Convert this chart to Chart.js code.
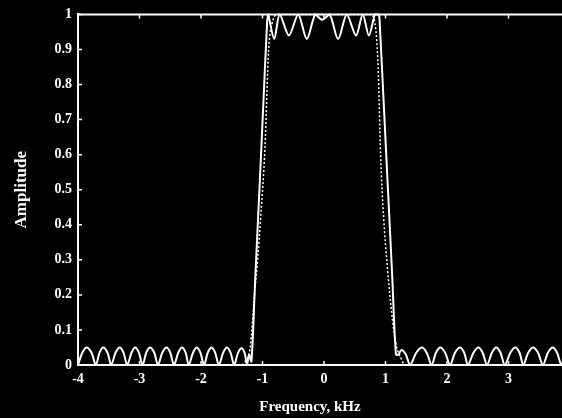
<!DOCTYPE html>
<html>
<head>
<meta charset="utf-8">
<script src="https://cdn.jsdelivr.net/npm/chart.js@4/dist/chart.umd.min.js"></script>
<style>
  html, body { margin: 0; padding: 0; background: #000; overflow: hidden; width: 562px; height: 418px; }
  #wrap { position: absolute; left: 0; top: 0; width: 600px; height: 418px; }
</style>
</head>
<body>
<div id="wrap"><canvas id="c" width="600" height="418"></canvas></div>
<script>
// Rippled filter response, in three stretches: lower stopband, passband with
// its two transition edges, upper stopband
const lowStopFreq = [
  -4.00, -3.93, -3.86, -3.78, -3.71, -3.65, -3.59, -3.52, -3.46, -3.39,
  -3.32, -3.26, -3.20, -3.13, -3.07, -3.01, -2.95, -2.89, -2.83, -2.76,
  -2.70, -2.63, -2.56, -2.50, -2.44, -2.37, -2.31, -2.25, -2.20, -2.13,
  -2.07, -2.01, -1.95, -1.89, -1.83, -1.77, -1.71, -1.64, -1.58, -1.52,
  -1.46, -1.40, -1.34, -1.29, -1.25, -1.22, -1.18
];
const lowStopAmp = [
  0.000, 0.035, 0.050, 0.035, 0.000, 0.035, 0.050, 0.035, 0.000, 0.035,
  0.050, 0.035, 0.000, 0.035, 0.050, 0.035, 0.000, 0.035, 0.050, 0.035,
  0.000, 0.035, 0.050, 0.035, 0.000, 0.035, 0.050, 0.035, 0.000, 0.035,
  0.050, 0.035, 0.000, 0.035, 0.050, 0.035, 0.000, 0.035, 0.050, 0.035,
  0.000, 0.034, 0.048, 0.034, 0.000, 0.030, 0.010
];
const passFreq = [
  -1.12, -1.05, -0.98, -0.93, -0.91, -0.81, -0.72, -0.57, -0.42, -0.28,
  -0.14, -0.03, 0.09, 0.23, 0.37, 0.52, 0.63, 0.73, 0.83, 0.89,
  0.91, 0.97, 1.04, 1.11, 1.17
];
const passAmp = [
  0.24, 0.50, 0.77, 0.96, 1.00, 0.93, 1.00, 0.94, 1.00, 0.93,
  1.00, 0.985, 1.00, 0.93, 1.00, 0.94, 1.00, 0.94, 1.00, 1.00,
  0.96, 0.75, 0.50, 0.25, 0.03
];
const highStopFreq = [
  1.21, 1.26, 1.33, 1.40, 1.50, 1.59, 1.67, 1.75, 1.82, 1.89,
  1.97, 2.05, 2.13, 2.21, 2.28, 2.34, 2.43, 2.51, 2.58, 2.65,
  2.73, 2.80, 2.87, 2.94, 3.03, 3.11, 3.18, 3.24, 3.32, 3.40,
  3.48, 3.56, 3.64, 3.72, 3.79, 3.86, 3.92, 3.98, 4.00
];
const highStopAmp = [
  0.030, 0.043, 0.030, 0.000, 0.035, 0.050, 0.035, 0.000, 0.035, 0.050,
  0.035, 0.000, 0.035, 0.050, 0.035, 0.000, 0.035, 0.050, 0.035, 0.000,
  0.035, 0.050, 0.035, 0.000, 0.035, 0.050, 0.035, 0.000, 0.035, 0.050,
  0.035, 0.000, 0.035, 0.050, 0.035, 0.000, 0.035, 0.050, 0.049
];

// Smooth (ripple-free) reference response, drawn dotted
const smoothFreq = [
  -4.00, -1.35, -1.28, -1.20, -1.13, -1.08, -1.03, -0.96, -0.90, -0.85, -0.76,
  0.76, 0.84, 0.88, 0.92, 0.97, 1.03, 1.10, 1.17, 1.25, 1.32, 4.00
];
const smoothAmp = [
  0.00, 0.00, 0.01, 0.05, 0.20, 0.30, 0.42, 0.62, 0.90, 0.97, 1.00,
  1.00, 0.96, 0.85, 0.60, 0.42, 0.28, 0.15, 0.06, 0.02, 0.00, 0.00
];

const xTickLabels = ['-4', '-3', '-2', '-1', '0', '1', '2', '3', '4'];
const yTickLabels = ['0', '0.1', '0.2', '0.3', '0.4', '0.5', '0.6', '0.7', '0.8', '0.9', '1'];

const toPoints = (xs, ys) => xs.map((x, i) => ({ x: x, y: ys[i] }));
const responsePoints = [
  ...toPoints(lowStopFreq, lowStopAmp),
  ...toPoints(passFreq, passAmp),
  ...toPoints(highStopFreq, highStopAmp)
];

const SERIF = "'Liberation Serif', 'DejaVu Serif', serif";

// Frame: top border with inward ticks, inward ticks on the axes, axis titles
const framePlugin = {
  id: 'frame',
  afterDraw(chart) {
    const ctx = chart.ctx;
    const a = chart.chartArea;
    const xs = chart.scales.x, ys = chart.scales.y;
    ctx.save();
    ctx.strokeStyle = '#fff';
    ctx.lineWidth = 2;
    ctx.beginPath();
    ctx.moveTo(a.left - 1, a.top);
    ctx.lineTo(a.right, a.top);
    ctx.stroke();
    ctx.lineWidth = 1.5;
    ctx.beginPath();
    xs.ticks.forEach(t => {
      const px = xs.getPixelForValue(t.value);
      ctx.moveTo(px, a.bottom);
      ctx.lineTo(px, a.bottom - 4);
      ctx.moveTo(px, a.top);
      ctx.lineTo(px, a.top + 4);
    });
    ys.ticks.forEach(t => {
      const py = ys.getPixelForValue(t.value);
      ctx.moveTo(a.left, py);
      ctx.lineTo(a.left + 4, py);
    });
    ctx.stroke();

    ctx.fillStyle = '#fff';
    ctx.font = 'bold 15px ' + SERIF;
    ctx.textAlign = 'center';
    ctx.textBaseline = 'middle';
    ctx.fillText('Frequency, kHz', 310, 407);
    ctx.translate(22, (a.top + a.bottom) / 2);
    ctx.rotate(-Math.PI / 2);
    ctx.font = 'bold 17px ' + SERIF;
    ctx.fillText('Amplitude', 0, 0);
    ctx.restore();
  }
};

new Chart(document.getElementById('c'), {
  type: 'line',
  data: {
    datasets: [
      {
        data: responsePoints,
        borderColor: '#fff',
        borderWidth: 2,
        pointRadius: 0,
        tension: 0.3,
        clip: 6
      },
      {
        data: toPoints(smoothFreq, smoothAmp),
        borderColor: '#fff',
        borderWidth: 1.5,
        borderDash: [2, 2],
        pointRadius: 0,
        cubicInterpolationMode: 'monotone',
        clip: 6
      }
    ]
  },
  options: {
    responsive: false,
    animation: false,
    events: [],
    layout: { padding: { top: 14, right: 30, left: 0, bottom: 0 } },
    plugins: { legend: { display: false }, tooltip: { enabled: false } },
    scales: {
      x: {
        type: 'linear',
        min: -4,
        max: 4,
        grid: { display: false, drawTicks: false },
        border: { display: true, color: '#fff', width: 2 },
        ticks: {
          stepSize: 1,
          padding: 6,
          color: '#fff',
          maxRotation: 0,
          font: { family: SERIF, size: 14, weight: 'bold' },
          callback: v => xTickLabels[Math.round(v + 4)]
        },
        afterFit: s => { s.height = 53; }
      },
      y: {
        min: 0,
        max: 1,
        grid: { display: false, drawTicks: false },
        border: { display: true, color: '#fff', width: 2 },
        ticks: {
          stepSize: 0.1,
          padding: 6,
          color: '#fff',
          font: { family: SERIF, size: 14, weight: 'bold' },
          callback: v => yTickLabels[Math.round(v * 10)]
        },
        afterFit: s => { s.width = 78; }
      }
    }
  },
  plugins: [framePlugin]
});
</script>
</body>
</html>
